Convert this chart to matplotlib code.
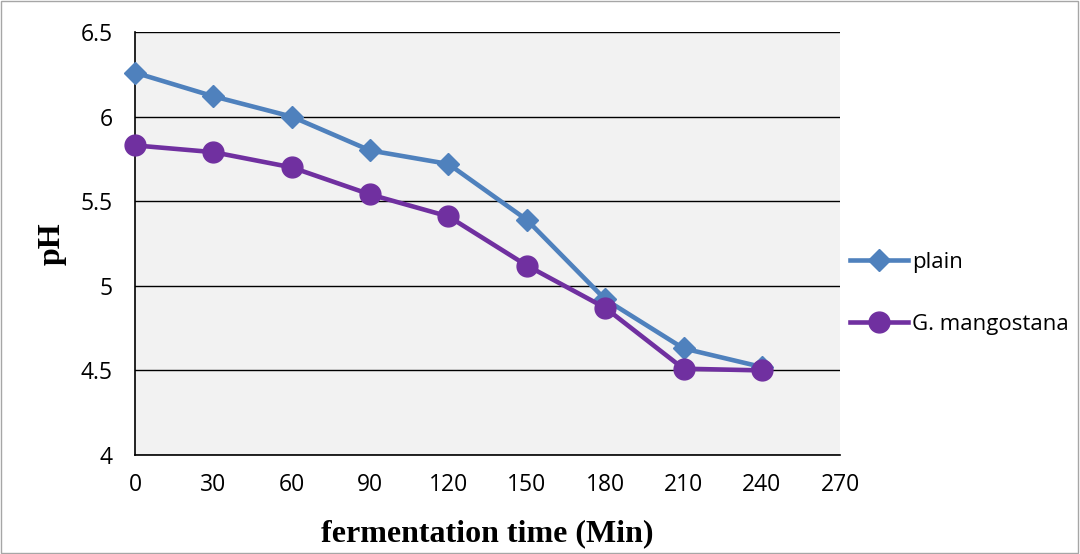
import matplotlib.pyplot as plt
from matplotlib.patches import Rectangle

# ---- data ----
tijd = [0, 30, 60, 90, 120, 150, 180, 210, 240]
ph_plain = [6.26, 6.12, 6.00, 5.80, 5.72, 5.39, 4.92, 4.63, 4.52]
ph_mango = [5.83, 5.79, 5.70, 5.54, 5.41, 5.12, 4.87, 4.51, 4.50]
x_ticks = [0, 30, 60, 90, 120, 150, 180, 210, 240, 270]
y_ticks = [4, 4.5, 5, 5.5, 6, 6.5]

tick_font = 'Open Sans'
label_font = 'Liberation Serif'

fig = plt.figure(figsize=(10.8, 5.54), dpi=100)
ax = fig.add_axes([0.125, 0.1787, 0.778 - 0.125, 0.9422 - 0.1787])
ax.set_facecolor('#F2F2F2')

ax.plot(tijd, ph_plain, color='#4F81BD', lw=3.3, marker='D', ms=11,
        label='plain', zorder=3, clip_on=False)
ax.plot(tijd, ph_mango, color='#7030A0', lw=3.3, marker='o', ms=15,
        label='G. mangostana', zorder=4, clip_on=False)

ax.set_xlim(0, 270)
ax.set_ylim(4, 6.5)
ax.set_xticks(x_ticks)
ax.set_yticks(y_ticks)
ax.set_yticklabels([f'{v:g}' for v in y_ticks])
ax.tick_params(length=0, labelsize=16.5)
ax.tick_params(axis='y', pad=16)
ax.tick_params(axis='x', pad=13)
for lab in ax.get_xticklabels() + ax.get_yticklabels():
    lab.set_fontfamily(tick_font)

ax.yaxis.grid(True, color='black', lw=1)
ax.set_axisbelow(True)
for s in ['top', 'right']:
    ax.spines[s].set_visible(False)
for s in ['left', 'bottom']:
    ax.spines[s].set_color('black')
    ax.spines[s].set_linewidth(1.2)

ax.set_xlabel('fermentation time (Min)', fontfamily=label_font,
              fontweight='bold', fontsize=23)
ax.xaxis.set_label_coords(0.5, -0.152)
ax.set_ylabel('pH', fontfamily=label_font, fontweight='bold', fontsize=23)
ax.yaxis.set_label_coords(-0.097, 0.5)

ax.legend(loc='center left', bbox_to_anchor=(850 / 1080, 0.470),
          bbox_transform=fig.transFigure, frameon=False, borderpad=0,
          borderaxespad=0, handlelength=2.6, handletextpad=0.2,
          labelspacing=1.85, prop={'family': tick_font, 'size': 16})

# rand om de figuur
fig.patches.append(Rectangle((0.001, 0.001), 0.997, 0.997, transform=fig.transFigure,
                             fill=False, edgecolor='#A6A6A6', lw=1))

fig.savefig('out.png', dpi=100)
